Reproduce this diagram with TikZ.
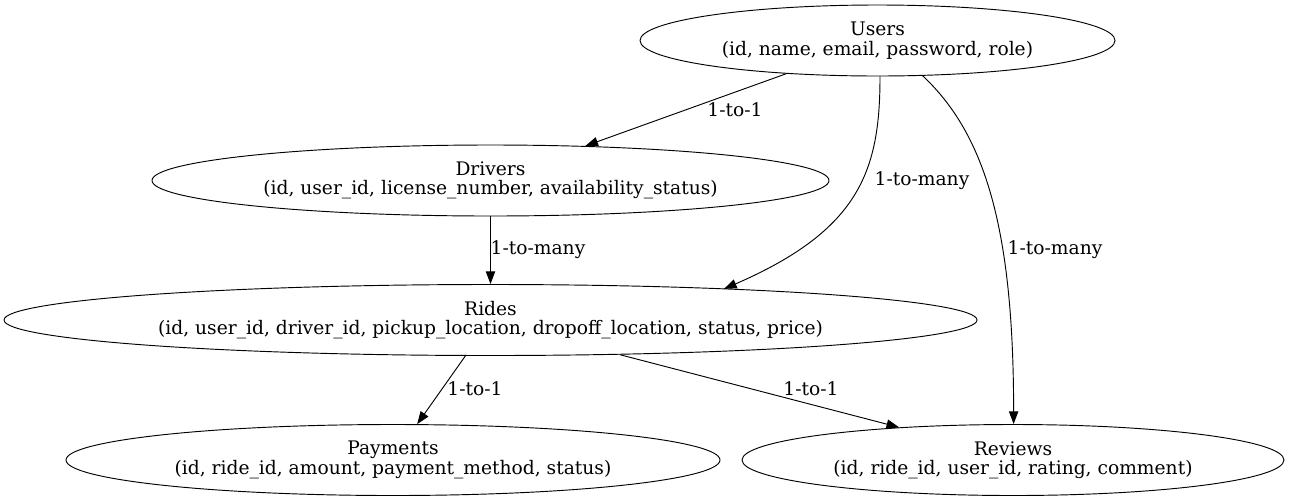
\documentclass[tikz,border=0pt]{standalone}
\usepackage{fontspec}
\setmainfont{DejaVu Serif}
\usetikzlibrary{shapes.geometric, arrows.meta, calc}
\tikzset{%
  every entity/.style={
    ellipse,
    draw,
    inner sep=0pt,
    minimum height=53.25pt,
    align=center,
    font=\fontsize{14}{14.5}\selectfont
  },
  every relation/.style={
    inner sep=0pt,
    font=\fontsize{14}{14.5}\selectfont
  },
}

\begin{document}
\begin{tikzpicture}[x=0.75pt, y=-0.75pt, line width=0.7pt, >={Triangle[length=9.5pt, width=7pt]}]

  \useasboundingbox (0,0) rectangle (1289,501);

  % Tables
  \node [every entity/.try, minimum width=356.25pt] (users) at (877.5,40.5)
    {Users\\(id, name, email, password, role)};
  \node [every entity/.try, minimum width=507.75pt] (drivers) at (490.5,180.5)
    {Drivers\\(id, user\_id, license\_number, availability\_status)};
  \node [every entity/.try, minimum width=729.75pt] (rides) at (490.5,320)
    {Rides\\(id, user\_id, driver\_id, pickup\_location, dropoff\_location, status, price)};
  \node [every entity/.try, minimum width=490.5pt] (payments) at (393,460)
    {Payments\\(id, ride\_id, amount, payment\_method, status)};
  \node [every entity/.try, minimum width=406.5pt] (reviews) at (1013,460)
    {Reviews\\(id, ride\_id, user\_id, rating, comment)};

  % Relations
  \draw [->] (users.-160) -- (drivers.20);
  \draw [->] (users.-86) .. controls +(0,94) and +(136,-59) .. ($(rides.center)+(233.5,-31.1)$);
  \draw [->] (users.-38) .. controls +(63,59) and +(0,-194) .. (reviews.89);
  \draw [->] (drivers.south) -- (rides.north);
  \draw [->] (rides.-125) -- (payments.56);
  \draw [->] (rides.-15) -- (reviews.164);

  % Text next to the relations
  \foreach \n/\x/\y/\l in {ud/735/110/1-to-1, ur/922/181/1-to-many, uv/1055/250/1-to-many,
                          dr/538/250/1-to-many, rp/475/389/1-to-1, rv/811/389/1-to-1}
    \node [every relation/.try] (rel-\n) at (\x,\y) {\l};

\end{tikzpicture}
\end{document}
